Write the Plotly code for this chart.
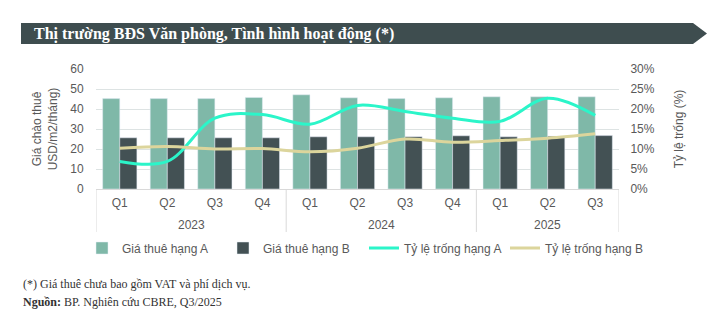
import plotly.graph_objects as go

years = ["2023", "2024", "2025"]
year_counts = [4, 4, 3]
quarters = ["Q1","Q2","Q3","Q4","Q1","Q2","Q3","Q4","Q1","Q2","Q3"]
rent_a = [45.2, 45.2, 45.2, 45.8, 47.1, 45.6, 45.2, 45.6, 46.1, 46.1, 46.1]
rent_b = [25.6, 25.6, 25.6, 25.6, 26.1, 26.1, 26.1, 26.6, 26.1, 26.4, 26.7]
vac_a = [6.9, 6.9, 17.7, 18.6, 16.2, 20.9, 19.4, 17.7, 16.9, 22.7, 18.4]
vac_b = [10.2, 10.6, 10.0, 10.1, 9.3, 10.2, 12.5, 11.7, 12.1, 12.7, 13.8]

xi = list(range(len(quarters)))
TXT = "#595959"
fig = go.Figure()
fig.add_trace(go.Bar(x=xi, y=rent_a, name="Giá thuê hạng A", marker_color="#7fb8a8"))
fig.add_trace(go.Bar(x=xi, y=rent_b, name="Giá thuê hạng B", marker_color="#435154"))
fig.add_trace(go.Scatter(x=xi, y=vac_a, name="Tỷ lệ trống hạng A", yaxis="y2", mode="lines",
                         line=dict(color="#2bf5c9", width=3, shape="spline", smoothing=1.0)))
fig.add_trace(go.Scatter(x=xi, y=vac_b, name="Tỷ lệ trống hạng B", yaxis="y2", mode="lines",
                         line=dict(color="#dcd59c", width=3, shape="spline", smoothing=1.0)))

L, R, T, B = 96, 619, 69, 189
W, H = R - L, B - T
def px(v): return (v - L) / W
def py(v): return (B - v) / H

shapes = [dict(type="path", xref="paper", yref="paper",
               path=f"M {px(21)} {py(23)} L {px(693)} {py(23)} L {px(707)} {py(33.5)} L {px(693)} {py(44)} L {px(21)} {py(44)} Z",
               fillcolor="#3e4d4f", line=dict(width=0), layer="above")]

annotations = [
    dict(text="Thị trường BĐS Văn phòng, Tình hình hoạt động (*)", xref="paper", yref="paper",
         x=px(32), y=py(34), xanchor="left", yanchor="middle", showarrow=False,
         font=dict(family="Liberation Serif", size=16, color="white", weight="bold")),
    dict(text="(*) Giá thuê chưa bao gồm VAT và phí dịch vụ.", xref="paper", yref="paper",
         x=px(21), y=py(284), xanchor="left", yanchor="middle", showarrow=False,
         font=dict(family="Liberation Serif", size=12, color="#333333")),
    dict(text="<b>Nguồn:</b> BP. Nghiên cứu CBRE, Q3/2025", xref="paper", yref="paper",
         x=px(21), y=py(302), xanchor="left", yanchor="middle", showarrow=False,
         font=dict(family="Liberation Serif", size=12, color="#333333")),
]

# year group labels and dividers
start = 0
bounds = [-0.5]
for yr, n in zip(years, year_counts):
    annotations.append(dict(text=yr, xref="x", yref="paper", x=start + (n - 1) / 2, y=py(225),
                            xanchor="center", yanchor="middle", showarrow=False,
                            font=dict(size=12, color=TXT)))
    start += n
    bounds.append(start - 0.5)
for b in bounds:
    shapes.append(dict(type="line", xref="x", yref="paper", x0=b, x1=b, y0=0, y1=py(232),
                       line=dict(color="#d9d9d9", width=1)))

fig.update_layout(
    width=722, height=323, margin=dict(l=L, r=722 - R, t=T, b=323 - B),
    paper_bgcolor="white", plot_bgcolor="white",
    font=dict(family="Liberation Sans", size=12, color=TXT),
    barmode="group", bargap=0.28, bargroupgap=0,
    showlegend=True,
    legend=dict(orientation="h", x=px(82), y=py(248), xanchor="left", yanchor="middle",
                font=dict(size=12, color=TXT), entrywidth=96, traceorder="normal",
                itemwidth=30),
    xaxis=dict(range=[-0.5, len(quarters) - 0.5], tickvals=xi, ticktext=quarters,
               showline=True, linecolor="#d9d9d9", linewidth=1, showgrid=False, zeroline=False,
               tickfont=dict(size=12, color=TXT), ticks="outside", ticklen=3,
               tickcolor="rgba(0,0,0,0)"),
    yaxis=dict(range=[0, 60], dtick=10, showgrid=True, gridcolor="#dde3e3", zeroline=False,
               tickfont=dict(size=12, color=TXT), ticks="outside", ticklen=9,
               tickcolor="rgba(0,0,0,0)",
               title=dict(text="Giá chào thuê<br>USD/m2/tháng)", font=dict(size=12, color=TXT), standoff=10)),
    yaxis2=dict(range=[0, 30], dtick=5, overlaying="y", side="right", showgrid=False, zeroline=False,
                ticksuffix="%", tickfont=dict(size=12, color=TXT), ticks="outside", ticklen=8,
                tickcolor="rgba(0,0,0,0)",
                title=dict(text="Tỷ lệ trống (%)", font=dict(size=12, color=TXT), standoff=20)),
    shapes=shapes, annotations=annotations,
)

fig.write_html("out.html")
